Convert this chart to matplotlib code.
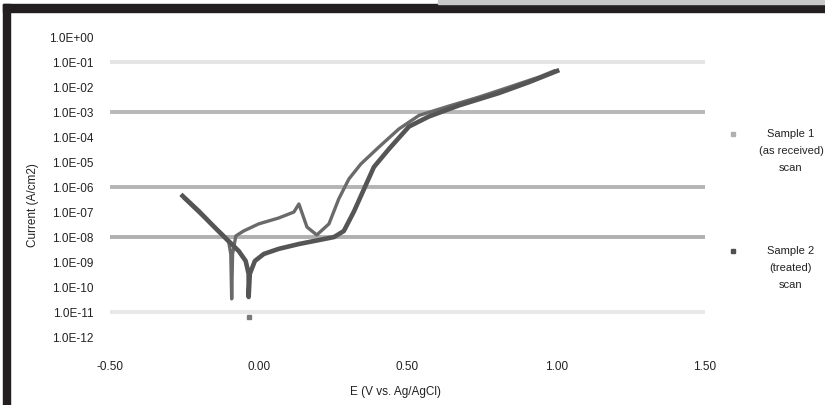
import numpy as np
from matplotlib import pyplot as plt
from matplotlib.lines import Line2D
from matplotlib.patches import Rectangle
from matplotlib.ticker import FuncFormatter

# polarization scans: potential (V) and current density
e_scan1 = [-0.256, -0.202, -0.152, -0.108, -0.067, -0.044, -0.034, -0.034, -0.030,
           -0.013, 0.017, 0.067, 0.135, 0.202, 0.253, 0.286, 0.320, 0.354, 0.387,
           0.438, 0.505, 0.572, 0.673, 0.808, 0.909, 1.003]
i_scan1 = [4.2e-7, 1.05e-7, 2.6e-8, 7.9e-9, 2.6e-9, 1.05e-9, 3.2e-10, 3.8e-11, 3.2e-10,
           1.05e-9, 2.0e-9, 3.2e-9, 5.0e-9, 7.2e-9, 9.5e-9, 1.66e-8, 1.0e-7, 8.0e-7, 6.0e-6,
           3.2e-5, 2.5e-4, 6.3e-4, 1.75e-3, 5.5e-3, 1.5e-2, 4.2e-2]

e_scan2 = [-0.249, -0.185, -0.128, -0.101, -0.094, -0.091, -0.088, -0.077, -0.051,
           0.0, 0.067, 0.118, 0.135, 0.162, 0.195, 0.236, 0.269, 0.303, 0.343,
           0.404, 0.471, 0.539, 0.640, 0.741, 0.842, 0.943, 0.993]
i_scan2 = [3.2e-7, 6.0e-8, 1.26e-8, 6.0e-9, 2.0e-9, 3.2e-11, 2.0e-9, 1.05e-8, 1.66e-8,
           3.2e-8, 5.5e-8, 9.5e-8, 2.0e-7, 2.4e-8, 1.15e-8, 3.2e-8, 3.2e-7, 2.0e-6, 7.9e-6,
           3.8e-5, 2.0e-4, 7.0e-4, 1.66e-3, 3.8e-3, 9.5e-3, 2.4e-2, 4.2e-2]

# lone point under the minimum
e_point = [-0.034]
i_point = [6.0e-12]

x_ticks = [-0.5, 0.0, 0.5, 1.0, 1.5]
y_ticks = [1e0, 1e-1, 1e-2, 1e-3, 1e-4, 1e-5, 1e-6, 1e-7, 1e-8, 1e-9, 1e-10, 1e-11, 1e-12]
legend_labels = ['Sample 1\n(as received)\nscan', 'Sample 2\n(treated)\nscan']

plt.rcParams['font.family'] = ['Liberation Sans', 'DejaVu Sans']

fig = plt.figure(figsize=(8.25, 4.06), dpi=100)
W, H = 825.0, 406.0
ax = fig.add_axes([110 / W, 1 - 337.5 / H, 595 / W, 300 / H])

# gridlines (only some survive in the original)
grid = [(1e-1, '#e4e4e4'), (1e-3, '#b8b8b8'), (1e-6, '#b4b4b4'),
        (1e-8, '#b0b0b0'), (1e-11, '#e8e8e8')]
for g, c in grid:
    ax.axhline(g, color=c, lw=2.8, zorder=0)

ax.plot(e_scan2, i_scan2, color='#6a6a6a', lw=2.4, zorder=2)
ax.plot(e_scan1, i_scan1, color='#555555', lw=3.3, zorder=3)
ax.plot(e_point, i_point, 's', color='#7a7a7a', ms=3.5, zorder=3)

ax.set_yscale('log')
ax.set_xlim(-0.5, 1.5)
ax.set_ylim(1e-12, 1e0)
ax.set_xticks(x_ticks)
ax.set_yticks(y_ticks)
ax.yaxis.set_minor_locator(plt.NullLocator())
ax.xaxis.set_major_formatter(FuncFormatter(lambda v, p: f'{v:.2f}'))
ax.yaxis.set_major_formatter(FuncFormatter(lambda v, p: f'{v:.1E}'))
ax.tick_params(length=0, labelsize=8.5, colors='#222222')
ax.tick_params(axis='y', pad=12)
ax.tick_params(axis='x', pad=17)
for s in ax.spines.values():
    s.set_visible(False)

fig.text(395 / W, 1 - 392 / H, 'E (V vs. Ag/AgCl)', ha='center', va='center',
         fontsize=8.5, color='#222222')
fig.text(33 / W, 1 - 205 / H, 'Current (A/cm2)', ha='center', va='center',
         rotation=90, fontsize=8.5, color='#222222')

# legend on the right
for k, (lab, mc, yy) in enumerate(zip(legend_labels, ['#b0b0b0', '#505050'], [135, 252])):
    fig.add_artist(Line2D([733 / W], [1 - yy / H], marker='s', ms=3.5, color=mc,
                          transform=fig.transFigure))
    fig.text(791 / W, 1 - (yy - 6) / H, lab, ha='center', va='top', fontsize=8,
             linespacing=1.9, color='#222222')

# scanned page frame
fig.add_artist(Rectangle((3 / W, 1 - 13 / H), 1, 8 / H, color='#231f20',
                         transform=fig.transFigure))
fig.add_artist(Rectangle((3 / W, 0), 7 / W, 1 - 5 / H, color='#231f20',
                         transform=fig.transFigure))
fig.add_artist(Rectangle((438 / W, 1 - 5 / H), 1, 5 / H, color='#c8c8c8',
                         transform=fig.transFigure))

plt.savefig('out.png', dpi=100)
